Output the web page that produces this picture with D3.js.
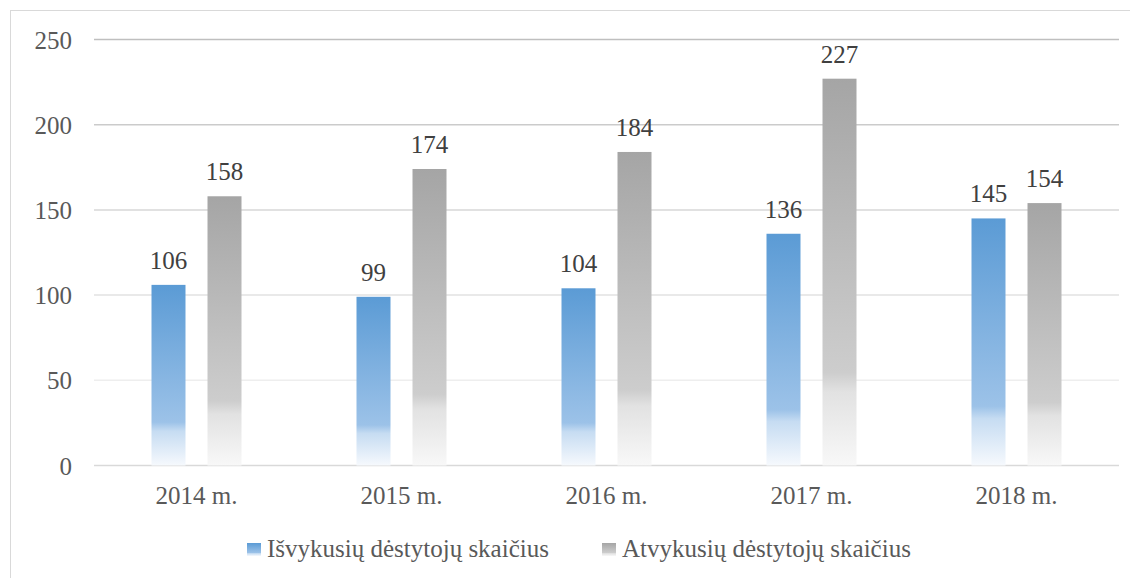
<!DOCTYPE html>
<html>
<head>
<meta charset="utf-8">
<script src="https://cdn.jsdelivr.net/npm/d3@7"></script>
<style>
  body { margin: 0; background: #fff; }
  text { font-family: "Liberation Serif", serif; }
</style>
</head>
<body>
<svg id="chart" width="1130" height="578"></svg>
<script>
const categories = ["2014 m.", "2015 m.", "2016 m.", "2017 m.", "2018 m."];
const seriesNames = ["Išvykusių dėstytojų skaičius", "Atvykusių dėstytojų skaičius"];
const outgoing = [106, 99, 104, 136, 145];
const incoming = [158, 174, 184, 227, 154];
const yTicks = [0, 50, 100, 150, 200, 250];

const svg = d3.select("#chart");
const plot = {left: 94, right: 1119, top: 39.5, bottom: 465.5};

// chart border
svg.append("rect")
    .attr("x", 10.5).attr("y", 10.5)
    .attr("width", 1130).attr("height", 578)
    .attr("fill", "#fff")
    .attr("stroke", "#d9d9d9");

// gradients, fading to white at the bottom of each bar
const defs = svg.append("defs");
const grads = [
    {id: "g0", stops: [[0, "#5b9bd5"], [0.76, "#9cc2e8"], [0.81, "#c6dcf2"], [1, "#f6f9fd"]]},
    {id: "g1", stops: [[0, "#a5a5a5"], [0.76, "#cdcdcd"], [0.81, "#e2e2e2"], [1, "#f8f8f8"]]}
];
grads.forEach(g => {
    const lg = defs.append("linearGradient").attr("id", g.id)
        .attr("x1", 0).attr("y1", 0).attr("x2", 0).attr("y2", 1);
    g.stops.forEach(s => lg.append("stop").attr("offset", s[0]).attr("stop-color", s[1]));
});

const x0 = d3.scaleBand().domain(categories).range([plot.left, plot.right]);
const x1 = d3.scaleBand().domain([0, 1]).range([-45, 45]).paddingInner(0.393);
const y = d3.scaleLinear().domain([0, 250]).range([plot.bottom, plot.top]);
const gridColor = d3.scaleLinear().domain([50, 250]).range(["#eeeeee", "#bfbfbf"]);

// gridlines
svg.append("g").selectAll("line")
    .data(yTicks)
    .join("line")
    .attr("x1", plot.left).attr("x2", plot.right)
    .attr("y1", d => y(d)).attr("y2", d => y(d))
    .attr("stroke", d => d === 0 ? "#d9d9d9" : gridColor(d))
    .attr("stroke-width", 1.5);

// y labels
svg.append("g").selectAll("text")
    .data(yTicks)
    .join("text")
    .attr("x", 72)
    .attr("y", d => y(d) + 9)
    .attr("text-anchor", "end")
    .attr("font-size", 25)
    .attr("fill", "#595959")
    .text(d => d);

// bars
const rows = categories.map((c, i) => ({cat: c, vals: [outgoing[i], incoming[i]]}));
const groups = svg.append("g").selectAll("g")
    .data(rows)
    .join("g")
    .attr("transform", d => `translate(${x0(d.cat) + x0.bandwidth() / 2},0)`);

groups.selectAll("rect")
    .data(d => d.vals.map((v, s) => ({v, s})))
    .join("rect")
    .attr("x", d => x1(d.s))
    .attr("width", x1.bandwidth())
    .attr("y", d => y(d.v))
    .attr("height", d => y(0) - y(d.v))
    .attr("fill", d => `url(#g${d.s})`);

groups.selectAll("text.val")
    .data(d => d.vals.map((v, s) => ({v, s})))
    .join("text")
    .attr("class", "val")
    .attr("x", d => x1(d.s) + x1.bandwidth() / 2)
    .attr("y", d => y(d.v) - 16)
    .attr("text-anchor", "middle")
    .attr("font-size", 25)
    .attr("fill", "#404040")
    .text(d => d.v);

// category labels
svg.append("g").selectAll("text")
    .data(categories)
    .join("text")
    .attr("x", d => x0(d) + x0.bandwidth() / 2)
    .attr("y", 504)
    .attr("text-anchor", "middle")
    .attr("font-size", 25)
    .attr("fill", "#595959")
    .text(d => d);

// legend
const legendX = [247, 602];
const legend = svg.append("g").selectAll("g")
    .data(seriesNames)
    .join("g")
    .attr("transform", (d, i) => `translate(${legendX[i]},0)`);
legend.append("rect")
    .attr("x", 0).attr("y", 543)
    .attr("width", 14).attr("height", 13)
    .attr("fill", (d, i) => `url(#g${i})`);
legend.append("text")
    .attr("x", 20).attr("y", 557)
    .attr("font-size", 25)
    .attr("fill", "#595959")
    .text(d => d);
</script>
</body>
</html>
